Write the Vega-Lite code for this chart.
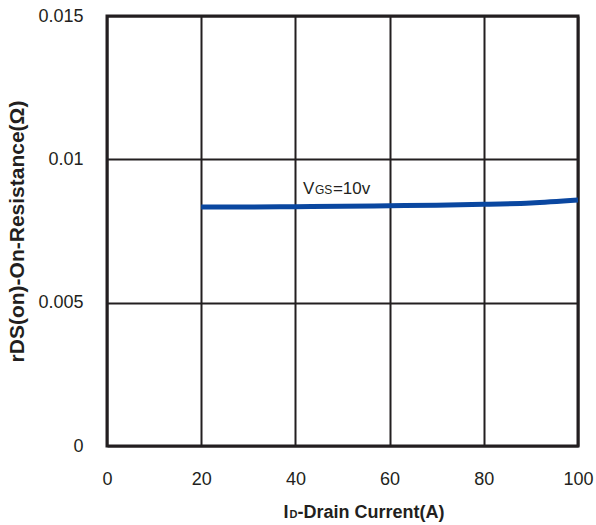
{
  "$schema": "https://vega.github.io/schema/vega-lite/v6.json",
  "autosize": "none",
  "width": 471,
  "height": 430,
  "padding": {"left": 107, "top": 16, "right": 18, "bottom": 79},
  "background": "white",
  "config": {
    "view": {"stroke": "#231f20", "strokeWidth": 3},
    "font": "Liberation Sans",
    "axis": {
      "domain": false,
      "ticks": false,
      "grid": true,
      "gridColor": "#231f20",
      "gridWidth": 2,
      "gridOpacity": 1,
      "labelFont": "Liberation Sans",
      "labelFontSize": 18,
      "labelColor": "#231f20",
      "titleFont": "Liberation Sans",
      "titleFontSize": 17,
      "titleFontWeight": "bold",
      "titleColor": "#231f20"
    }
  },
  "data": {
    "values": [
      {"current": 20, "resistance": 0.00834},
      {"current": 30, "resistance": 0.00834},
      {"current": 40, "resistance": 0.00835},
      {"current": 50, "resistance": 0.00836},
      {"current": 60, "resistance": 0.00838},
      {"current": 70, "resistance": 0.0084},
      {"current": 80, "resistance": 0.00843},
      {"current": 90, "resistance": 0.00848},
      {"current": 100, "resistance": 0.00858}
    ]
  },
  "layer": [
    {
      "mark": {"type": "line", "color": "#0a47a0", "strokeWidth": 5, "interpolate": "monotone"},
      "encoding": {
        "x": {
          "field": "current", "type": "quantitative",
          "scale": {"domain": [0, 100], "nice": false},
          "axis": {"values": [0, 20, 40, 60, 80, 100], "labelPadding": 24, "title": null, "labelFlush": false}
        },
        "y": {
          "field": "resistance", "type": "quantitative",
          "scale": {"domain": [0, 0.015], "nice": false, "zero": true},
          "axis": {"values": [0, 0.005, 0.01, 0.015], "format": "~g", "labelPadding": 24, "title": "rDS(on)-On-Resistance(Ω)", "titleFontSize": 21, "titlePadding": 10, "labelFlush": false}
        }
      }
    },
    {
      "data": {"values": [{"current": 41.6, "resistance": 0.0088}]},
      "layer": [
        {
          "mark": {"type": "text", "text": "V", "align": "left", "baseline": "alphabetic", "fontSize": 17, "color": "#231f20"},
          "encoding": {"x": {"field": "current", "type": "quantitative"}, "y": {"field": "resistance", "type": "quantitative"}}
        },
        {
          "mark": {"type": "text", "text": "GS", "align": "left", "baseline": "alphabetic", "fontSize": 12, "dx": 12, "color": "#231f20"},
          "encoding": {"x": {"field": "current", "type": "quantitative"}, "y": {"field": "resistance", "type": "quantitative"}}
        },
        {
          "mark": {"type": "text", "text": "=10v", "align": "left", "baseline": "alphabetic", "fontSize": 17, "dx": 30, "color": "#231f20"},
          "encoding": {"x": {"field": "current", "type": "quantitative"}, "y": {"field": "resistance", "type": "quantitative"}}
        }
      ]
    },
    {
      "data": {"values": [{"current": 50, "resistance": 0}]},
      "layer": [
        {
          "mark": {"type": "text", "text": "I", "align": "left", "baseline": "alphabetic", "fontSize": 18, "fontWeight": "bold", "dx": -59, "dy": 72, "color": "#231f20"},
          "encoding": {"x": {"field": "current", "type": "quantitative"}, "y": {"field": "resistance", "type": "quantitative"}}
        },
        {
          "mark": {"type": "text", "text": "D", "align": "left", "baseline": "alphabetic", "fontSize": 11, "fontWeight": "bold", "dx": -53, "dy": 72, "color": "#231f20"},
          "encoding": {"x": {"field": "current", "type": "quantitative"}, "y": {"field": "resistance", "type": "quantitative"}}
        },
        {
          "mark": {"type": "text", "text": "-Drain Current(A)", "align": "left", "baseline": "alphabetic", "fontSize": 18, "fontWeight": "bold", "dx": -45, "dy": 72, "color": "#231f20"},
          "encoding": {"x": {"field": "current", "type": "quantitative"}, "y": {"field": "resistance", "type": "quantitative"}}
        }
      ]
    }
  ]
}
